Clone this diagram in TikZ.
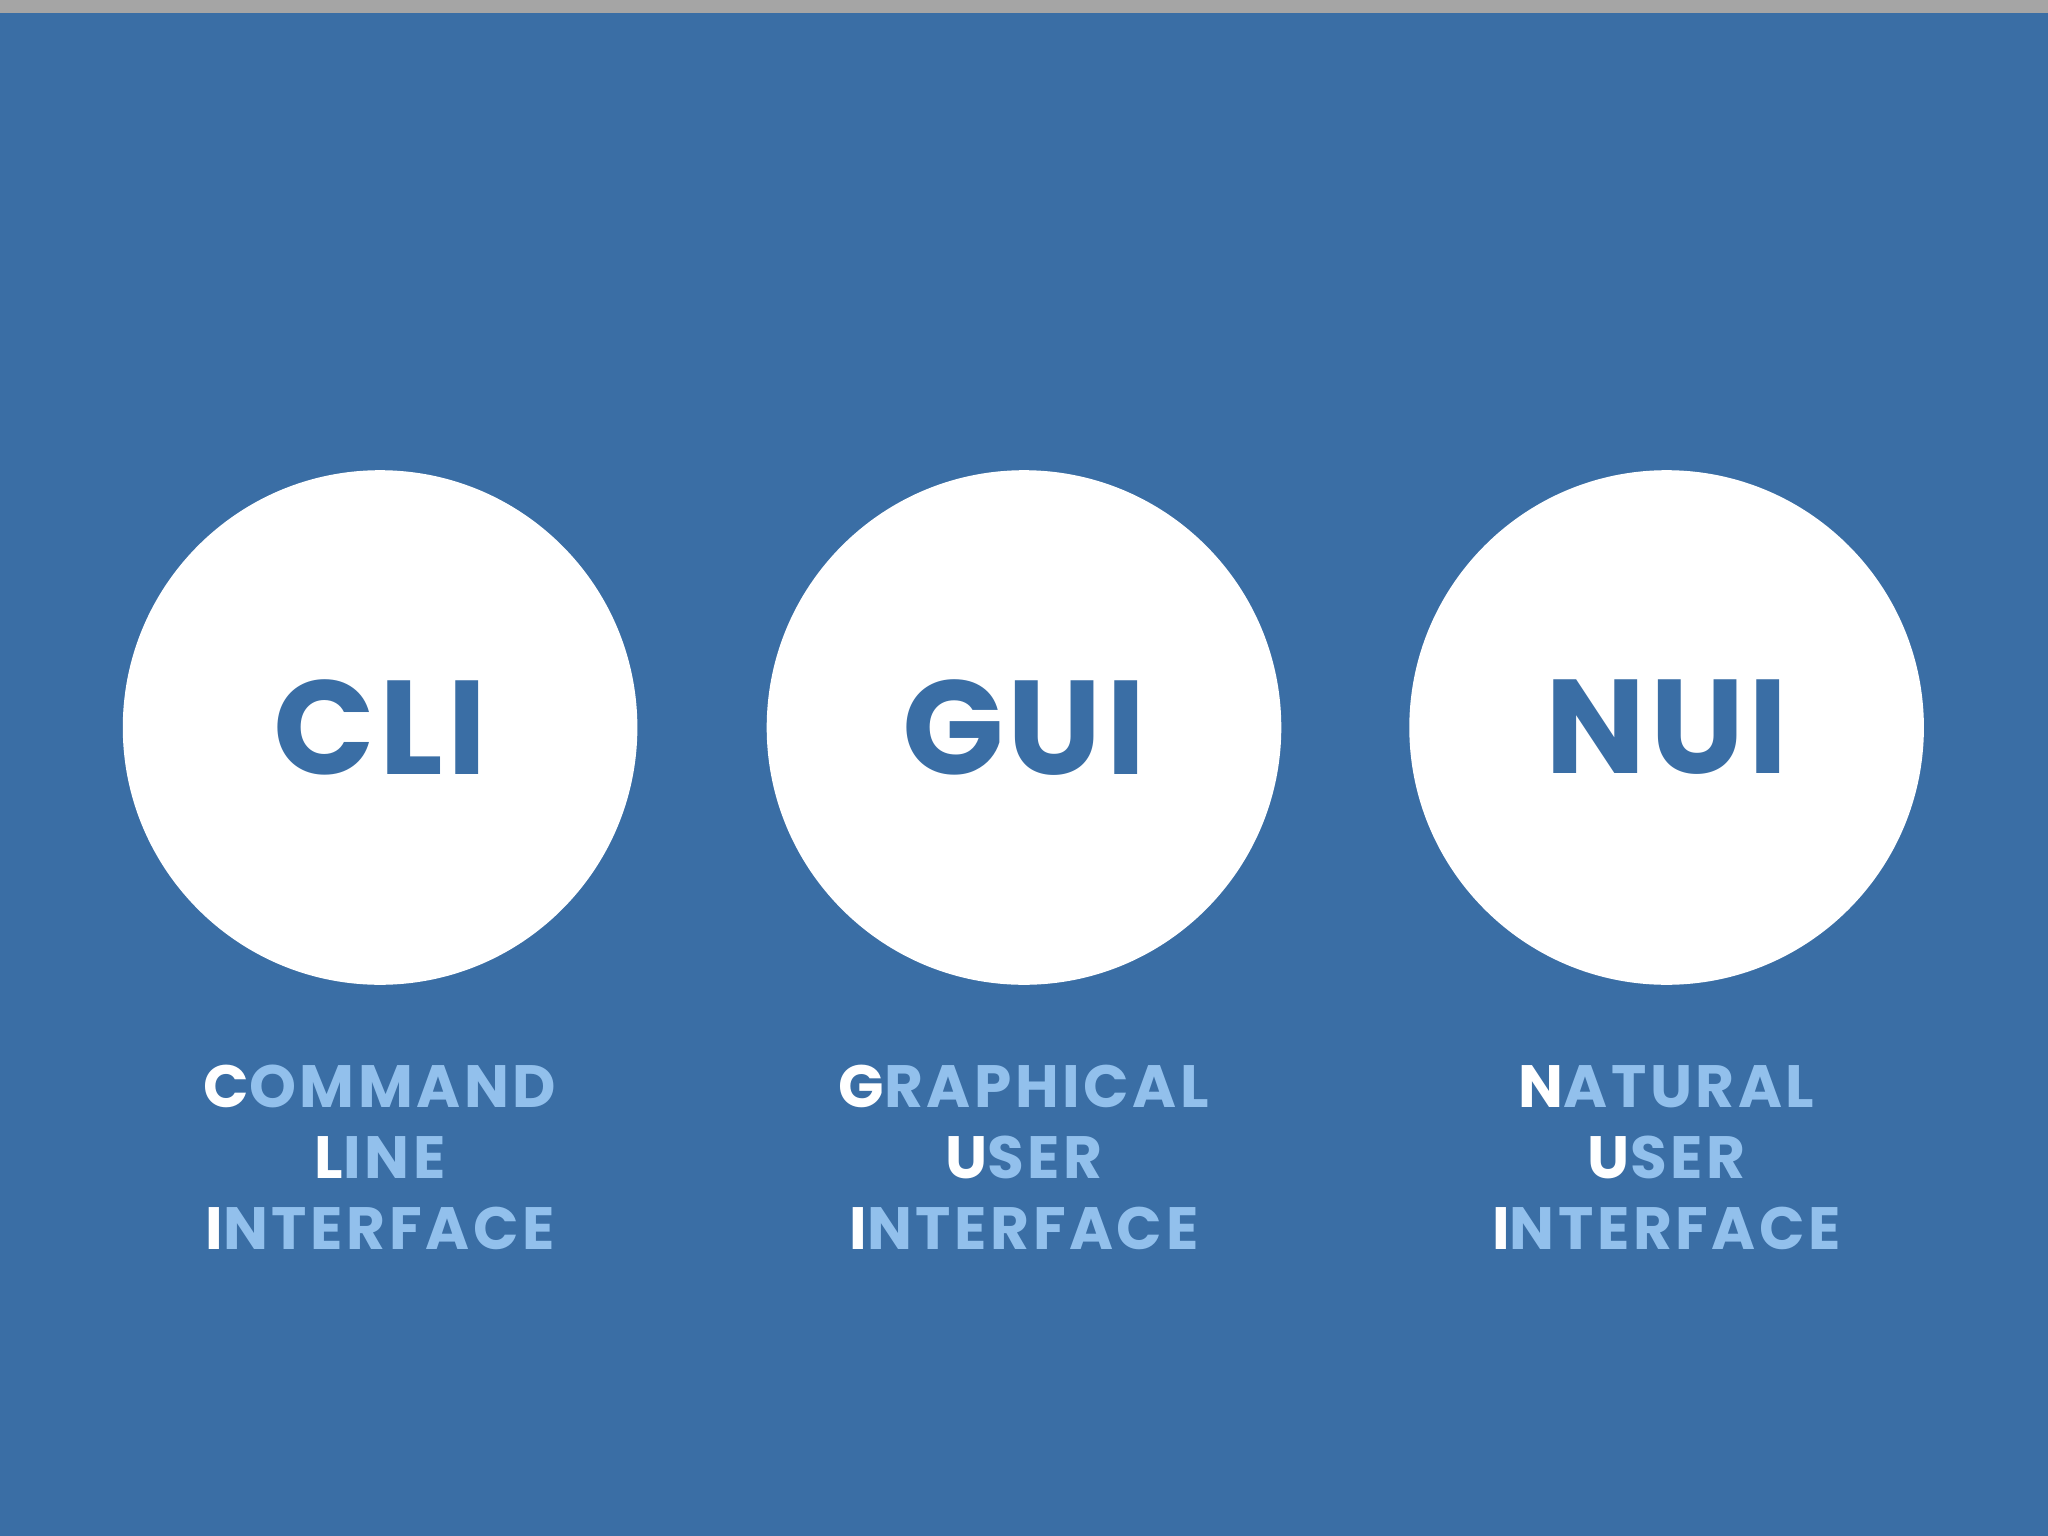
\documentclass[tikz,border=0pt]{standalone}
\usepackage{fontspec}
\setmainfont{Poppins}
\definecolor{bg}{HTML}{3A6EA5}
\definecolor{lb}{HTML}{92C0EC}
\definecolor{topbar}{HTML}{A5A5A5}
\newcommand{\W}[2]{\textcolor{white}{#1}\textcolor{lb}{#2}}
\begin{document}
\begin{tikzpicture}[x=0.013061cm,y=-0.013061cm,
  circ/.style={circle,fill=white,minimum size=394\pgflinewidth,inner sep=0},
  big/.style={text=bg,font=\fontsize{38}{40}\selectfont\bfseries\addfontfeature{LetterSpace=3}},
  lab/.style={align=center,font=\fontsize{17}{20.2}\selectfont\bfseries\addfontfeature{LetterSpace=6}}]
\useasboundingbox (0,0) rectangle (1568,1176);
\fill[bg] (0,0) rectangle (1568,1176);
\fill[topbar] (0,0) rectangle (1568,10);
\foreach \n/\x in {a/291,b/784,c/1276}{
  \fill[white] (\x,557) circle [x radius=197, y radius=197];
}
\node[big] (t1) at (291,557) {CLI};
\node[big] (t2) at (784,557) {GUI};
\node[big] (t3) at (1276,557) {NUI};
\node[lab] (l1) at (291,886) {\W{C}{OMMAND}\\\W{L}{INE}\\\W{I}{NTERFACE}};
\node[lab] (l2) at (784,886) {\W{G}{RAPHICAL}\\\W{U}{SER}\\\W{I}{NTERFACE}};
\node[lab] (l3) at (1276,886) {\W{N}{ATURAL}\\\W{U}{SER}\\\W{I}{NTERFACE}};
\end{tikzpicture}
\end{document}
